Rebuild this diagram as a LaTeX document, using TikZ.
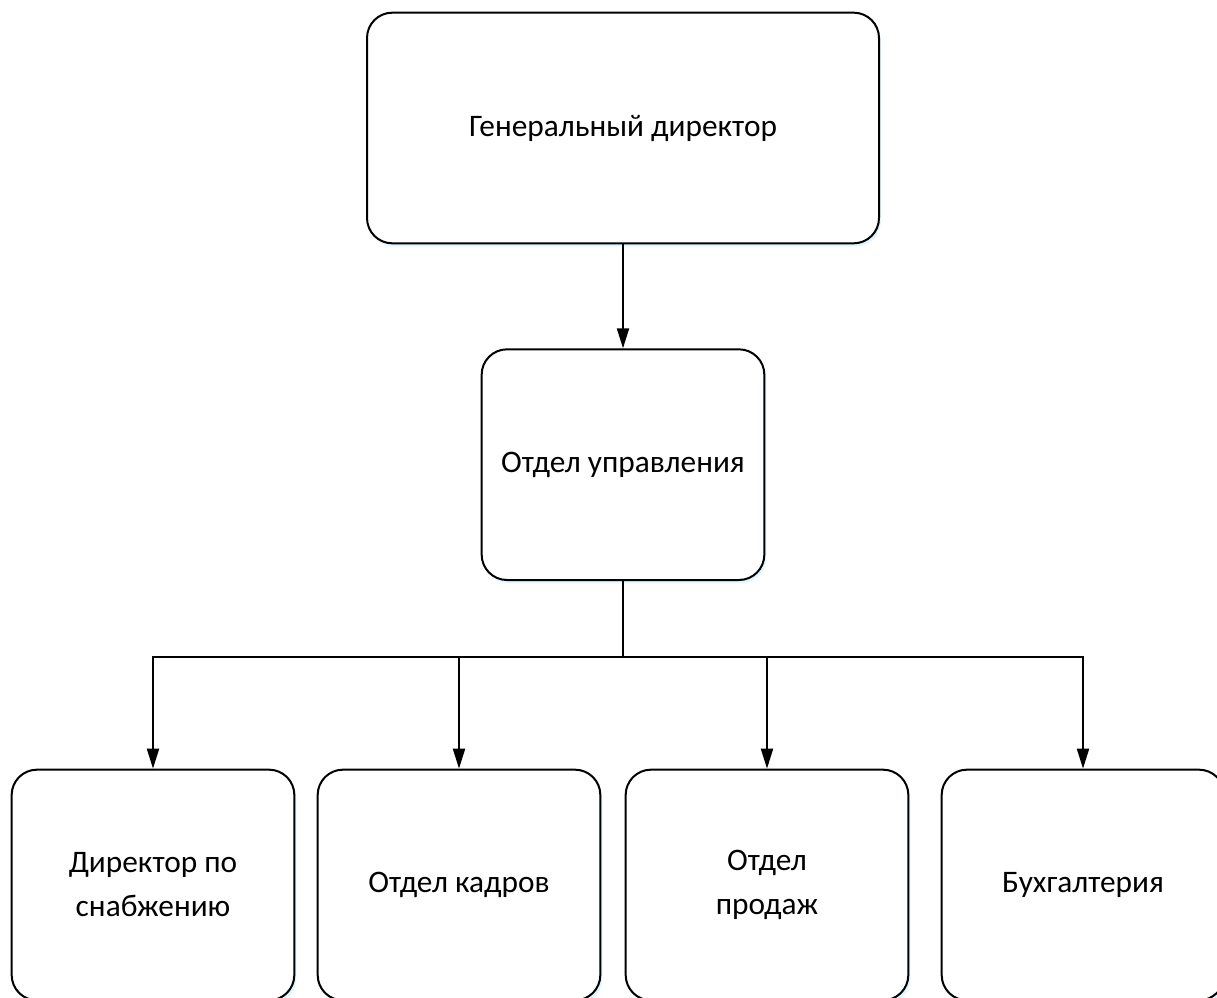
\documentclass[tikz,border=0pt]{standalone}
\usepackage{fontspec}
\setmainfont{Carlito}
\usetikzlibrary{arrows.meta, positioning, shadows}
\colorlet{linecolor}{black}
\colorlet{shadowcolor}{blue!30!cyan!25}
\tikzset{
  unit/.style={
    draw=linecolor,
    line width=1.5pt,
    rounded corners=19pt,
    minimum width=212pt,
    minimum height=173pt,
    align=center,
    fill=white,
    font=\fontsize{23.5}{33}\selectfont,
    drop shadow={shadow xshift=1.5pt, shadow yshift=-2.5pt, fill=shadowcolor, opacity=0.45}
  },
  head/.style={unit, minimum width=384pt},
  arr/.style={-{Triangle[length=15pt,width=9pt]}, line width=1.5pt, draw=linecolor}
}
\begin{document}
\begin{tikzpicture}[x=0.75pt, y=-0.75pt]
\clip (0,0) rectangle (1217,998);

\node[head] (gendir) at (623,128) {Генеральный директор};
\node[unit, below=78pt of gendir] (upr) {Отдел управления};

\node[unit] (snab) at (153,885) {Директор по\\снабжению};
\node[unit] (kadry) at (459,885) {Отдел кадров};
\node[unit] (prodazh) at (767,885) {Отдел\\продаж};
\node[unit] (buh) at (1083,885) {Бухгалтерия};

\coordinate (split) at (623,657);

\draw[arr] (gendir) -- (upr);
\draw[arr] (upr.south) -- (split) -| (snab.north);
\draw[arr] (upr.south) -- (split) -| (kadry.north);
\draw[arr] (upr.south) -- (split) -| (prodazh.north);
\draw[arr] (upr.south) -- (split) -| (buh.north);

\end{tikzpicture}
\end{document}
